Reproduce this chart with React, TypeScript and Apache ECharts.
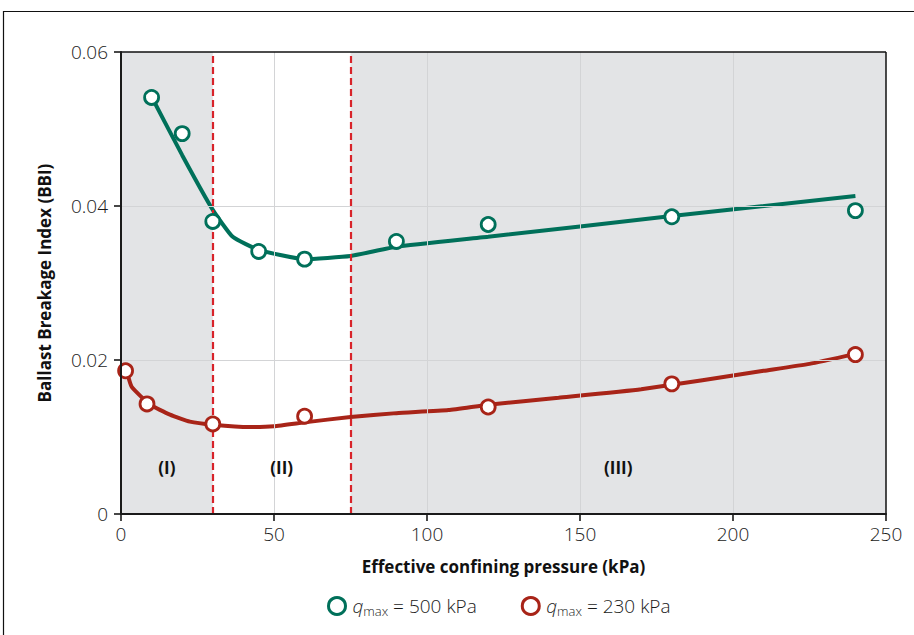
import React, { useEffect, useRef } from "react";
import * as echarts from "echarts";

// Scatter measurements
const highPoints: [number, number][] = [
  [10, 0.0541], [20, 0.0494], [30, 0.0380], [45, 0.0341], [60, 0.0331],
  [90, 0.0354], [120, 0.0376], [180, 0.0386], [240, 0.0394],
];
const lowPoints: [number, number][] = [
  [1.5, 0.0186], [8.5, 0.0143], [30, 0.0117], [60, 0.0127],
  [120, 0.0139], [180, 0.0169], [240, 0.0207],
];
// Fitted trend lines
const highTrend: [number, number][] = [
  [10.5, 0.0538], [20, 0.0466], [30, 0.0395], [36.5, 0.0360], [45, 0.0343],
  [60, 0.0331], [75, 0.0335], [90, 0.0347], [120, 0.0360], [180, 0.0387], [240, 0.0413],
];
const lowTrend: [number, number][] = [
  [2, 0.0184], [3.5, 0.0165], [9.5, 0.0142], [16, 0.0129], [22.5, 0.0120],
  [30, 0.0116], [42, 0.0113], [50, 0.0114], [60, 0.0119], [75, 0.0126],
  [90, 0.0131], [107, 0.0135], [120, 0.0142], [143, 0.0151], [170, 0.0162],
  [210, 0.0186], [225, 0.0195], [240, 0.0208],
];
const regionBounds = [0, 30, 75, 250];
const regionLabels = [
  { name: "(I)", x: 15, y: 0.0061 },
  { name: "(II)", x: 52.5, y: 0.0061 },
  { name: "(III)", x: 162.5, y: 0.0061 },
];
const xGridValues = [50, 100, 150, 200];
const yGridValues = [0.02, 0.04];
const seriesNames = ["500", "230"];

const GREEN = "#00705a";
const RED = "#a82418";
const DASH = "#d8232a";
const FONT = "'Open Sans', sans-serif";

export default function App() {
  const ref = useRef<HTMLDivElement>(null);
  useEffect(() => {
    document.body.style.margin = "0";
    const chart = echarts.init(ref.current!, null, { renderer: "svg" });
    const legendRich = {
      i: { fontStyle: "italic", fontSize: 19, color: "#1a1a1a", fontFamily: FONT, fontWeight: 300 },
      s: { fontSize: 13, color: "#1a1a1a", fontFamily: FONT, fontWeight: 300, padding: [10, 0, 0, 0] },
      t: { fontSize: 19, color: "#1a1a1a", fontFamily: FONT, fontWeight: 300 },
    };
    const axisCommon = {
      type: "value",
      nameLocation: "middle",
      nameTextStyle: { fontSize: 17, fontWeight: "bold", color: "#111", fontFamily: FONT },
      axisLine: { show: true, onZero: false, lineStyle: { color: "#1a1a1a", width: 2 } },
      axisTick: { show: true, inside: false, length: 7, lineStyle: { color: "#1a1a1a", width: 1.6 } },
      splitLine: { show: false },
      z: 10,
    };
    chart.setOption({
      animation: false,
      backgroundColor: "#fff",
      grid: { left: 121, right: 28, top: 52, bottom: 121, show: false },
      graphic: [
        {
          type: "rect",
          shape: { x: 3.5, y: 11.5, width: 1000, height: 1000 },
          style: { fill: "none", stroke: "#111", lineWidth: 1.2 },
          silent: true,
        },
      ],
      legend: {
        left: 322,
        top: 591,
        itemGap: 44,
        itemWidth: 17,
        itemHeight: 17,
        data: seriesNames.map((n) => ({
          name: n,
          icon: "circle",
          itemStyle: { color: "#fff", borderColor: n === "500" ? GREEN : RED, borderWidth: 3 },
        })),
        formatter: (n: string) => `{i|q}{s|max}{t| = ${n} kPa}`,
        textStyle: { rich: legendRich, padding: [0, 0, 0, 2] },
      },
      xAxis: {
        ...axisCommon,
        min: 0,
        max: 250,
        interval: 50,
        name: "Effective confining pressure (kPa)",
        nameGap: 44,
        axisLabel: { fontSize: 19, color: "#1a1a1a", fontFamily: FONT, fontWeight: 300, margin: 10 },
      },
      yAxis: {
        ...axisCommon,
        min: 0,
        max: 0.06,
        interval: 0.02,
        name: "Ballast Breakage Index (BBI)",
        nameGap: 68,
        axisLabel: {
          fontSize: 19, color: "#1a1a1a", fontFamily: FONT, fontWeight: 300, margin: 13,
          formatter: (v: number) => (v === 0 ? "0" : v.toFixed(2)),
        },
      },
      series: [
        {
          type: "line",
          name: "regions",
          data: [[0, 0]],
          symbol: "none",
          lineStyle: { opacity: 0 },
          silent: true,
          z: 1,
          markArea: {
            silent: true,
            itemStyle: { color: "#e3e4e6" },
            data: [
              [{ xAxis: regionBounds[0], yAxis: 0 }, { xAxis: regionBounds[1], yAxis: 0.06 }],
              [{ xAxis: regionBounds[2], yAxis: 0 }, { xAxis: regionBounds[3], yAxis: 0.06 }],
            ],
          },
        },
        {
          type: "line",
          name: "gridlines",
          data: [[0, 0]],
          symbol: "none",
          lineStyle: { opacity: 0 },
          silent: true,
          z: 2,
          markLine: {
            silent: true,
            symbol: "none",
            label: { show: false },
            lineStyle: { color: "#d3d4d6", width: 1, type: "solid" },
            data: [
              ...xGridValues.map((v) => ({ xAxis: v })),
              ...yGridValues.map((v) => ({ yAxis: v })),
            ],
          },
          markPoint: {
            silent: true,
            symbol: "circle",
            symbolSize: 0,
            label: {
              show: true,
              position: "inside",
              fontSize: 17,
              fontWeight: "bold",
              color: "#111",
              fontFamily: FONT,
              formatter: (p: any) => p.name,
            },
            data: regionLabels.map((r) => ({ name: r.name, coord: [r.x, r.y] })),
          },
        },
        {
          type: "line",
          name: "frame",
          data: [[0, 0]],
          symbol: "none",
          lineStyle: { opacity: 0 },
          silent: true,
          z: 3,
          markLine: {
            silent: true,
            symbol: "none",
            label: { show: false },
            data: [
              { xAxis: 250, lineStyle: { color: "#111", width: 1.5, type: "solid" } },
              { yAxis: 0.06, lineStyle: { color: "#111", width: 1.5, type: "solid" } },
              { xAxis: regionBounds[1], lineStyle: { color: DASH, width: 2.2, type: [7, 4] } },
              { xAxis: regionBounds[2], lineStyle: { color: DASH, width: 2.2, type: [7, 4] } },
            ],
          },
        },
        {
          type: "line",
          name: "trend500",
          data: highTrend,
          smooth: 0.15,
          symbol: "none",
          lineStyle: { color: GREEN, width: 4 },
          z: 4,
          silent: true,
        },
        {
          type: "line",
          name: "trend230",
          data: lowTrend,
          smooth: 0.15,
          symbol: "none",
          lineStyle: { color: RED, width: 4 },
          z: 4,
          silent: true,
        },
        {
          type: "scatter",
          name: seriesNames[0],
          data: highPoints,
          symbol: "circle",
          symbolSize: 14,
          itemStyle: { color: "#fff", borderColor: GREEN, borderWidth: 2.8, opacity: 1 },
          z: 5,
        },
        {
          type: "scatter",
          name: seriesNames[1],
          data: lowPoints,
          symbol: "circle",
          symbolSize: 14,
          itemStyle: { color: "#fff", borderColor: RED, borderWidth: 2.8, opacity: 1 },
          z: 5,
        },
      ],
    });
    return () => chart.dispose();
  }, []);
  return <div ref={ref} style={{ width: 914, height: 635 }} />;
}
